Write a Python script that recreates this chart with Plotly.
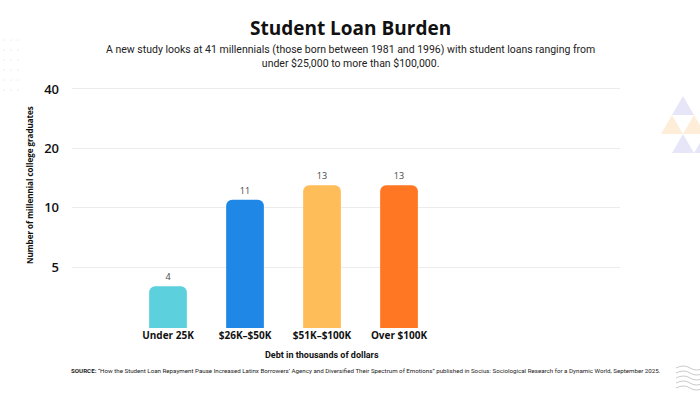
import plotly.graph_objects as go
import math

categories = ["Under 25K", "$26K–$50K", "$51K–$100K", "Over $100K"]
counts = [4, 11, 13, 13]
colors = ["#5CD0DD", "#1F88E6", "#FFBD5A", "#FF7722"]
y_tick_vals = [5, 10, 20, 40]
y_tick_text = ["5", "10", "20", "40"]

title = "<b>Student Loan Burden</b>"
subtitle = ("A new study looks at 41 millennials (those born between 1981 and 1996) with student loans ranging from"
            "<br>under $25,000 to more than $100,000.")
source = ("<b>SOURCE:</b> \u201cHow the Student Loan Repayment Pause Increased Latinx Borrowers\u2019 Agency and Diversified "
          "Their Spectrum of Emotions\u201d published in Socius: Sociological Research for a Dynamic World, September 2025.")

fig = go.Figure()
fig.add_trace(go.Bar(
    x=categories, y=counts,
    marker=dict(color=colors, cornerradius=6, line=dict(width=0)),
    width=0.49,
    text=[str(c) for c in counts], textposition="outside",
    textfont=dict(size=9, color="#444", family="Open Sans"),
    cliponaxis=False,
))

fig.update_layout(
    width=700, height=394,
    margin=dict(l=72, r=80, t=85, b=66),
    paper_bgcolor="white", plot_bgcolor="white",
    showlegend=False,
    xaxis=dict(range=[-1.247, 5.87], showgrid=False, zeroline=False, showline=False,
               tickfont=dict(size=10, color="#111", family="Open Sans", weight=700), ticks="", ticklen=0),
    yaxis=dict(type="log", range=[math.log10(2.46), math.log10(41.9)],
               tickvals=y_tick_vals, ticktext=y_tick_text,
               showgrid=True, gridcolor="#ececec", gridwidth=1, zeroline=False, showline=False,
               tickfont=dict(size=13, color="#111", family="Open Sans", weight=600), ticks="", ticklabelstandoff=12),
)

def px_x(x):
    return (x - 72) / (700 - 72 - 80)
def px_y(y):
    return (394 - 66 - y) / (394 - 85 - 66)

fig.add_annotation(text=title, x=px_x(350), y=px_y(28), xref="paper", yref="paper", showarrow=False,
                   xanchor="center", yanchor="middle",
                   font=dict(size=19, color="#111", family="Open Sans"))
fig.add_annotation(text=subtitle, x=px_x(350), y=px_y(56), xref="paper", yref="paper", showarrow=False,
                   xanchor="center", yanchor="middle", align="center",
                   font=dict(size=10.5, color="#222", family="Roboto, sans-serif"))
fig.add_annotation(text="<b>Number of millennial college graduates</b>", x=px_x(29), y=px_y(185),
                   xref="paper", yref="paper", showarrow=False, textangle=-90,
                   xanchor="center", yanchor="middle",
                   font=dict(size=8, color="#111", family="Open Sans"))
fig.add_annotation(text="<b>Debt in thousands of dollars</b>", x=px_x(322), y=px_y(355),
                   xref="paper", yref="paper", showarrow=False, xanchor="center", yanchor="middle",
                   font=dict(size=9, color="#111", family="Roboto, sans-serif"))
fig.add_annotation(text=source, x=px_x(366), y=px_y(371),
                   xref="paper", yref="paper", showarrow=False, xanchor="center", yanchor="middle",
                   font=dict(size=6.2, color="#222", family="Roboto, sans-serif"))

# decorative dot grid (top-left)
shapes = []
for i in range(6):
    for j in range(3):
        cx, cy = 4 + j * 7, 40 + i * 10
        shapes.append(dict(type="circle", xref="paper", yref="paper",
                           x0=px_x(cx - 0.6), x1=px_x(cx + 0.6), y0=px_y(cy - 0.6), y1=px_y(cy + 0.6),
                           fillcolor="#d8d8d8", line=dict(width=0), layer="below"))

# decorative triangles (right)
def tri(x0, y0, w, h, color, up=True):
    if up:
        pts = [(x0, y0 + h), (x0 + w / 2, y0), (x0 + w, y0 + h)]
    else:
        pts = [(x0, y0), (x0 + w / 2, y0 + h), (x0 + w, y0)]
    path = "M " + " L ".join(f"{px_x(a)},{px_y(b)}" for a, b in pts) + " Z"
    return dict(type="path", xref="paper", yref="paper", path=path, fillcolor=color,
                line=dict(width=0), layer="below")

lav = "rgba(200,200,240,0.45)"
peach = "rgba(250,215,170,0.45)"
shapes.append(tri(672, 96, 22, 19, lav))
shapes.append(tri(661, 115, 22, 19, peach))
shapes.append(tri(683, 115, 22, 19, peach))
shapes.append(tri(672, 134, 22, 19, lav))
shapes.append(tri(694, 134, 22, 19, lav))

# decorative wavy lines (bottom-right)
for k in range(5):
    y0 = 368 + k * 5
    path = f"M {px_x(676)},{px_y(y0)} Q {px_x(684)},{px_y(y0 - 4)} {px_x(690)},{px_y(y0)} T {px_x(704)},{px_y(y0)}"
    shapes.append(dict(type="path", xref="paper", yref="paper", path=path,
                       line=dict(color="#bbbbbb", width=0.8), layer="below"))

fig.update_layout(shapes=shapes)
fig.write_html("out.html")
